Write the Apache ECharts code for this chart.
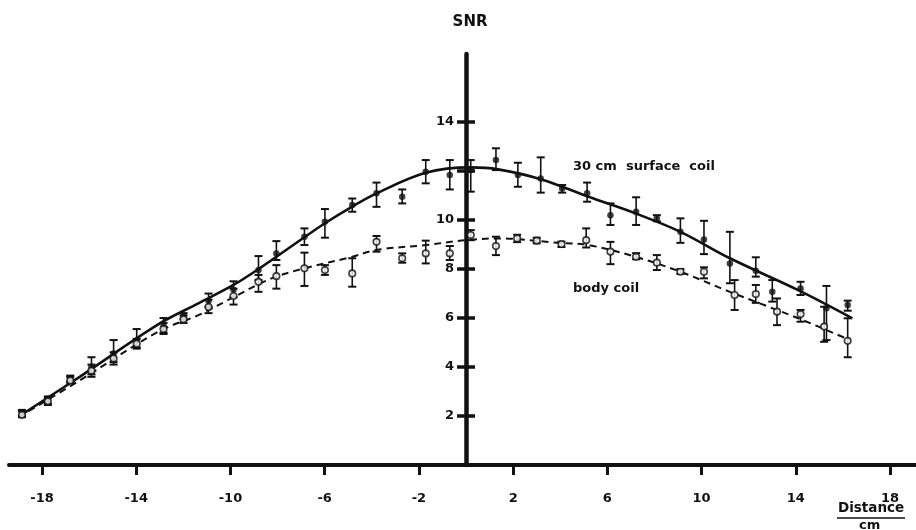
<!DOCTYPE html>
<html>
<head>
<meta charset="utf-8">
<script src="https://cdn.jsdelivr.net/npm/echarts@6/dist/echarts.min.js"></script>
<style>
html,body{margin:0;padding:0;background:#fff;}
#chart{width:916px;height:530px;}
</style>
</head>
<body>
<div id="chart"></div>
<script>
// ---- data ----
const xTickValues = [-18, -14, -10, -6, -2, 2, 6, 10, 14, 18];
const yTickValues = [2, 4, 6, 8, 10, 12, 14];
const yLabelValues = [2, 4, 6, 8, 10, 14];

// 30 cm surface coil: measured points with error bars
const surfX  = [-18.85,-17.75,-16.8,-15.9,-14.96,-13.98,-12.84,-11.99,-10.93,-9.87,-8.81,-8.05,-6.86,-5.99,-4.83,-3.8,-2.71,-1.71,-0.69,0.2,1.27,2.2,3.17,4.08,5.14,6.13,7.22,8.1,9.1,10.1,11.2,12.3,13.0,14.2,15.3,16.2];
const surfY  = [2.1,2.65,3.5,4.0,4.55,5.08,5.7,6.1,6.7,7.15,7.96,8.64,9.32,9.93,10.61,11.09,10.95,11.97,11.84,12.04,12.45,11.84,11.7,11.29,11.09,10.2,10.34,10.07,9.52,9.21,8.23,7.93,7.07,7.21,6.4,6.53];
const surfLo = [2.0,2.5,3.4,3.7,4.2,4.8,5.4,5.95,6.45,6.85,7.55,8.37,8.98,9.28,10.34,10.54,10.68,11.5,11.25,11.16,12.04,11.36,11.12,11.12,10.75,9.8,9.8,9.95,9.07,8.61,7.42,7.69,6.67,6.94,5.1,6.3];
const surfHi = [2.25,2.8,3.65,4.4,5.1,5.55,6.0,6.2,7.0,7.5,8.53,9.14,9.66,10.45,10.88,11.53,11.25,12.45,12.45,12.45,12.93,12.34,12.56,11.43,11.53,10.68,10.93,10.2,10.07,9.97,9.52,8.48,7.55,7.48,7.31,6.71];

// body coil: measured points with error bars
const bodyX  = [-18.85,-17.75,-16.8,-15.9,-14.96,-13.98,-12.84,-11.99,-10.93,-9.87,-8.81,-8.05,-6.86,-5.99,-4.83,-3.8,-2.71,-1.71,-0.69,0.2,1.27,2.17,3.0,4.05,5.1,6.13,7.22,8.1,9.1,10.1,11.4,12.3,13.2,14.2,15.2,16.2];
const bodyY  = [2.05,2.6,3.45,3.85,4.35,4.95,5.55,5.95,6.45,6.9,7.48,7.71,8.03,7.96,7.82,9.11,8.44,8.64,8.64,9.39,8.94,9.25,9.16,9.02,9.18,8.71,8.5,8.26,7.89,7.89,6.94,6.98,6.26,6.16,5.65,5.07];
const bodyLo = [1.95,2.45,3.35,3.6,4.1,4.75,5.35,5.8,6.2,6.55,7.07,7.2,7.31,7.76,7.28,8.71,8.26,8.23,8.37,9.18,8.57,9.1,9.05,8.9,8.88,8.2,8.4,7.96,7.8,7.62,6.33,6.62,5.71,5.85,5.03,4.4];
const bodyHi = [2.2,2.75,3.6,4.1,4.6,5.15,5.8,6.1,6.75,7.2,7.76,8.16,8.67,8.16,8.44,9.35,8.64,9.16,8.94,9.59,9.32,9.4,9.28,9.12,9.66,9.11,8.65,8.57,8.0,8.07,7.55,7.35,6.8,6.33,6.46,5.99];

// fitted curves as drawn
const surfCurveX = [-19.0,-16.4,-13.05,-11.36,-9.87,-8.81,-6.86,-5.99,-4.83,-3.8,-1.71,0.2,1.36,3.2,5.2,7.2,9.1,11.2,14.1,16.4];
const surfCurveY = [1.97,3.6,5.75,6.6,7.35,8.0,9.3,9.87,10.55,11.09,11.93,12.15,12.07,11.66,10.95,10.27,9.52,8.44,7.14,5.99];
const bodyCurveX = [-19.0,-16.4,-13.05,-11.36,-9.87,-8.81,-8.05,-6.86,-4.83,-3.8,-1.71,0,1.4,3.9,5.2,7.2,9.1,11.2,14.1,16.3];
const bodyCurveY = [1.95,3.45,5.45,6.12,6.85,7.38,7.69,8.03,8.5,8.78,8.98,9.18,9.25,9.07,8.98,8.5,7.89,7.07,5.99,5.1];

const INK = '#111';
const FONT = 'DejaVu Sans';

const zip2 = (a, b) => a.map((v, i) => [v, b[i]]);
const zip3 = (a, b, c) => a.map((v, i) => [v, b[i], c[i]]);

function renderErr(params, api) {
  const x = api.value(0), lo = api.value(1), hi = api.value(2);
  const pHi = api.coord([x, hi]);
  const pLo = api.coord([x, lo]);
  const w = 4;
  return {
    type: 'group',
    children: [
      { type: 'line', shape: { x1: pHi[0], y1: pHi[1], x2: pLo[0], y2: pLo[1] }, style: { stroke: INK, lineWidth: 1.6 } },
      { type: 'line', shape: { x1: pHi[0] - w, y1: pHi[1], x2: pHi[0] + w, y2: pHi[1] }, style: { stroke: INK, lineWidth: 2 } },
      { type: 'line', shape: { x1: pLo[0] - w, y1: pLo[1], x2: pLo[0] + w, y2: pLo[1] }, style: { stroke: INK, lineWidth: 2 } }
    ]
  };
}

const xMin = -19.4, xMax = 19.1;
const yMin = 0, yMax = 16.78;
const gridLeft = 9, gridRight = 0;
const W = 916;
// y axis drawn at x = 0: shift it from the grid's left edge
const zeroPx = gridLeft + (0 - xMin) / (xMax - xMin) * (W - gridLeft - gridRight);
const yOffset = -(zeroPx - gridLeft);

const chart = echarts.init(document.getElementById('chart'), null, { renderer: 'canvas' });

chart.setOption({
  animation: false,
  backgroundColor: '#fff',
  textStyle: { fontFamily: FONT },
  grid: { left: gridLeft, right: gridRight, top: 54, bottom: 65, containLabel: false, outerBoundsMode: 'none' },
  xAxis: {
    type: 'value',
    min: xMin, max: xMax,
    splitLine: { show: false },
    axisLine: { show: true, onZero: false, lineStyle: { color: INK, width: 4 } },
    axisTick: { show: true, customValues: xTickValues, length: 10, inside: false, lineStyle: { color: INK, width: 3 } },
    axisLabel: {
      show: true, customValues: xTickValues, margin: 27,
      color: INK, fontFamily: FONT, fontWeight: 'bold', fontSize: 13,
      formatter: v => String(v)
    }
  },
  yAxis: [
    {
      type: 'value', min: yMin, max: yMax,
      position: 'left', offset: yOffset,
      name: 'SNR', nameLocation: 'end', nameGap: 24,
      nameTextStyle: { color: INK, fontFamily: FONT, fontWeight: 'bold', fontSize: 15, align: 'center', padding: [0, 0, 0, 8] },
      splitLine: { show: false },
      axisLine: { show: true, onZero: false, lineStyle: { color: INK, width: 4.5 } },
      axisTick: { show: true, customValues: yTickValues, length: 9, inside: false, lineStyle: { color: INK, width: 3.5 } },
      axisLabel: {
        show: true, customValues: yLabelValues, margin: 12,
        color: INK, fontFamily: FONT, fontWeight: 'bold', fontSize: 13
      }
    },
    {
      type: 'value', min: yMin, max: yMax,
      position: 'left', offset: yOffset,
      splitLine: { show: false },
      axisLine: { show: false, onZero: false },
      axisTick: { show: true, customValues: yTickValues, length: 9, inside: true, lineStyle: { color: INK, width: 3.5 } },
      axisLabel: { show: false }
    }
  ],
  series: [
    {
      name: 'surface fit', type: 'line', smooth: 0.35, showSymbol: false, symbol: 'none',
      data: zip2(surfCurveX, surfCurveY),
      lineStyle: { color: INK, width: 2.6 }, z: 2
    },
    {
      name: 'body fit', type: 'line', smooth: 0.35, showSymbol: false, symbol: 'none',
      data: zip2(bodyCurveX, bodyCurveY),
      lineStyle: { color: INK, width: 2, type: [7, 5] }, z: 2
    },
    {
      name: 'surface err', type: 'custom', renderItem: renderErr,
      encode: { x: 0, y: [1, 2] }, data: zip3(surfX, surfLo, surfHi), z: 3
    },
    {
      name: 'body err', type: 'custom', renderItem: renderErr,
      encode: { x: 0, y: [1, 2] }, data: zip3(bodyX, bodyLo, bodyHi), z: 3
    },
    {
      name: '30 cm surface coil', type: 'scatter', symbol: 'circle', symbolSize: 6.5,
      data: zip2(surfX, surfY),
      itemStyle: { color: INK }, z: 4
    },
    {
      name: 'body coil', type: 'scatter', symbol: 'circle', symbolSize: 6.5,
      data: zip2(bodyX, bodyY),
      itemStyle: { color: '#fff', borderColor: INK, borderWidth: 1.7 }, z: 4
    }
  ],
  graphic: [
    { type: 'text', left: 573, top: 160, style: { text: '30 cm  surface  coil', fill: INK, font: 'bold 13px "DejaVu Sans"' } },
    { type: 'text', left: 573, top: 282, style: { text: 'body coil', fill: INK, font: 'bold 13px "DejaVu Sans"' } },
    { type: 'text', left: 838, top: 501, style: { text: 'Distance', fill: INK, font: 'bold 13.5px "DejaVu Sans"' } },
    { type: 'line', shape: { x1: 837, y1: 518, x2: 905, y2: 518 }, style: { stroke: INK, lineWidth: 1.6 } },
    { type: 'text', left: 859, top: 519, style: { text: 'cm', fill: INK, font: 'bold 13px "DejaVu Sans"' } }
  ]
});
</script>
</body>
</html>
